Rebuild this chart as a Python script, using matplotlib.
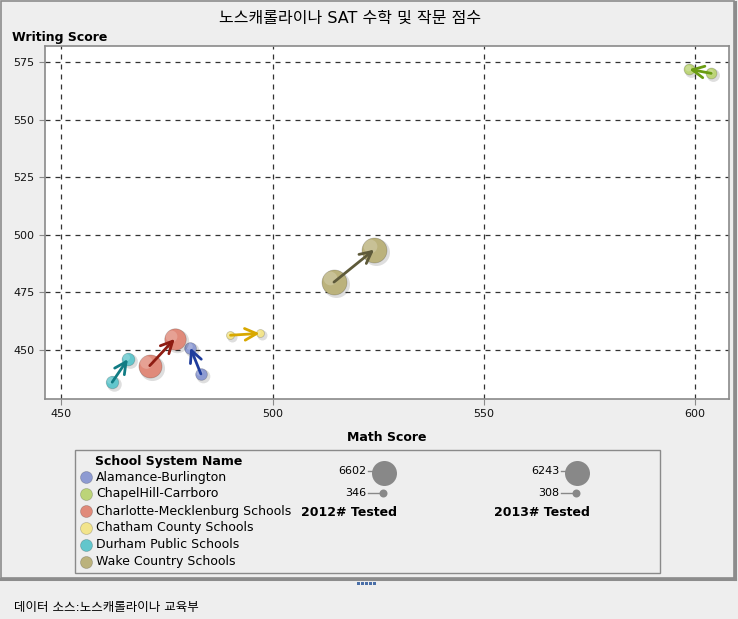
import numpy as np
import matplotlib.pyplot as plt
from matplotlib.patches import Rectangle
from matplotlib import transforms

plt.rcParams['font.family'] = ['DejaVu Sans', 'Noto Sans CJK KR']

# =========================
# data
# =========================
schools = ["Alamance-Burlington", "ChapelHill-Carrboro", "Charlotte-Mecklenburg Schools",
           "Chatham County Schools", "Durham Public Schools", "Wake Country Schools"]
math_2012 = [483.0, 603.8, 470.9, 490.0, 462.0, 514.5]
write_2012 = [439.6, 570.2, 443.2, 456.4, 436.0, 479.5]
math_2013 = [480.5, 598.6, 476.8, 496.9, 465.7, 524.0]
write_2013 = [451.0, 572.0, 454.8, 457.2, 446.0, 493.6]
tested_2012 = [1700, 1400, 5900, 346, 2000, 6602]
tested_2013 = [1630, 1300, 5000, 308, 1960, 6243]

x_ticks = [450, 500, 550, 600]
y_ticks = [450, 475, 500, 525, 550, 575]

fill_colors = ["#8E9BD2", "#BCD478", "#E08A7A", "#F2E48C", "#62C6CC", "#BBB27C"]
arrow_colors = ["#1E3C9C", "#6A9C12", "#8E1C12", "#D8A800", "#117C84", "#5E5A3A"]

BG = "#EEEEEE"


def diam(v, vals):
    # bubble diameter in pixels, linear between min and max of that year
    lo, hi = min(vals), max(vals)
    return 8 + (v - lo) / (hi - lo) * 17


def s_of(d):
    return (d * 0.72) ** 2


fig = plt.figure(figsize=(7.38, 6.19), dpi=100)
fig.patch.set_facecolor(BG)

# background / frame layer in pixel coordinates
bg = fig.add_axes([0, 0, 1, 1], zorder=0)
bg.set_xlim(0, 738)
bg.set_ylim(619, 0)
bg.axis("off")
bg.add_patch(Rectangle((1, 1), 733, 577, fill=False, ec="#8C8C8C", lw=1.2))
bg.plot([734.5, 734.5], [2, 579], color="#8C8C8C", lw=2.2)
bg.plot([1, 735], [578.5, 578.5], color="#8C8C8C", lw=2.2)
for i in range(5):
    bg.add_patch(Rectangle((357 + i * 4, 582), 3, 2.5, color="#4A6FA8", lw=0))

# =========================
# main plot
# =========================
ax = fig.add_axes([45 / 738, 1 - 399 / 619, 684 / 738, 353 / 619], zorder=2)
ax.set_facecolor("white")
ax.set_xlim(446.1, 608.0)
ax.set_ylim(428.7, 582.1)
ax.set_xticks(x_ticks)
ax.set_yticks(y_ticks)
ax.grid(True, color="#333333", ls=(0, (4, 4)), lw=0.9)
ax.set_axisbelow(True)
for sp in ax.spines.values():
    sp.set_color("#8A8A8A")
    sp.set_linewidth(1.2)
ax.tick_params(colors="#8A8A8A", labelcolor="#111111", labelsize=8, length=4)

shadow_tr = transforms.offset_copy(ax.transData, fig, x=2, y=-2, units="dots")

for i in range(len(schools)):
    d12 = diam(tested_2012[i], tested_2012)
    d13 = diam(tested_2013[i], tested_2013)
    for mx, wy, d in [(math_2012[i], write_2012[i], d12), (math_2013[i], write_2013[i], d13)]:
        ax.scatter([mx], [wy], s=s_of(d + 2), color="#000000", alpha=0.13, lw=0,
                   transform=shadow_tr, zorder=3)
        ax.scatter([mx], [wy], s=s_of(d), color=fill_colors[i], edgecolors="#00000030",
                   lw=0.6, zorder=3)
        hl = transforms.offset_copy(ax.transData, fig, x=-d * 0.15, y=d * 0.15, units="dots")
        ax.scatter([mx], [wy], s=s_of(d * 0.55), color="white", alpha=0.2, lw=0,
                   transform=hl, zorder=3)
    ax.annotate("", xy=(math_2013[i], write_2013[i]), xytext=(math_2012[i], write_2012[i]),
                arrowprops=dict(arrowstyle="->", color=arrow_colors[i], lw=2,
                                shrinkA=0, shrinkB=0, mutation_scale=21),
                zorder=4)

ax.set_xlabel("Math Score", fontsize=9, fontweight="bold", labelpad=8)

fig.text(12 / 738, 1 - 37 / 619, "Writing Score", fontsize=9, fontweight="bold", va="center")
fig.text(350 / 738, 1 - 18 / 619, "노스캐롤라이나 SAT 수학 및 작문 점수", fontsize=11.5,
         ha="center", va="center")
fig.text(14 / 738, 1 - 607 / 619, "데이터 소스:노스캐롤라이나 교육부", fontsize=9, va="center")

# =========================
# legend
# =========================
bg.add_patch(Rectangle((75, 450), 585, 123, fill=False, ec="#8A8A8A", lw=1))
bg.text(95, 461, "School System Name", fontsize=9, fontweight="bold", va="center")
for i, name in enumerate(schools):
    yy = 477 + i * 17
    bg.scatter([86], [yy], s=s_of(12), color=fill_colors[i], edgecolors="#00000030", lw=0.6)
    bg.text(96, yy, name, fontsize=9, va="center")

for cx, vals, year in [(384, tested_2012, "2012"), (577, tested_2013, "2013")]:
    dmax = diam(max(vals), vals)
    dmin = diam(min(vals), vals)
    bg.scatter([cx], [473], s=s_of(dmax), color="#888888", lw=0)
    bg.scatter([cx - 1], [493], s=s_of(dmin), color="#888888", lw=0)
    bg.plot([cx - 16, cx - 10], [471, 471], color="#888888", lw=1)
    bg.plot([cx - 16, cx - 5], [493, 493], color="#888888", lw=1)
    bg.text(cx - 18, 471, str(max(vals)), fontsize=8, ha="right", va="center")
    bg.text(cx - 18, 493, str(min(vals)), fontsize=8, ha="right", va="center")
    bg.text(cx - 35, 512, year + "# Tested", fontsize=9, fontweight="bold",
            ha="center", va="center")

fig.savefig("out.png", dpi=100, facecolor=BG)
